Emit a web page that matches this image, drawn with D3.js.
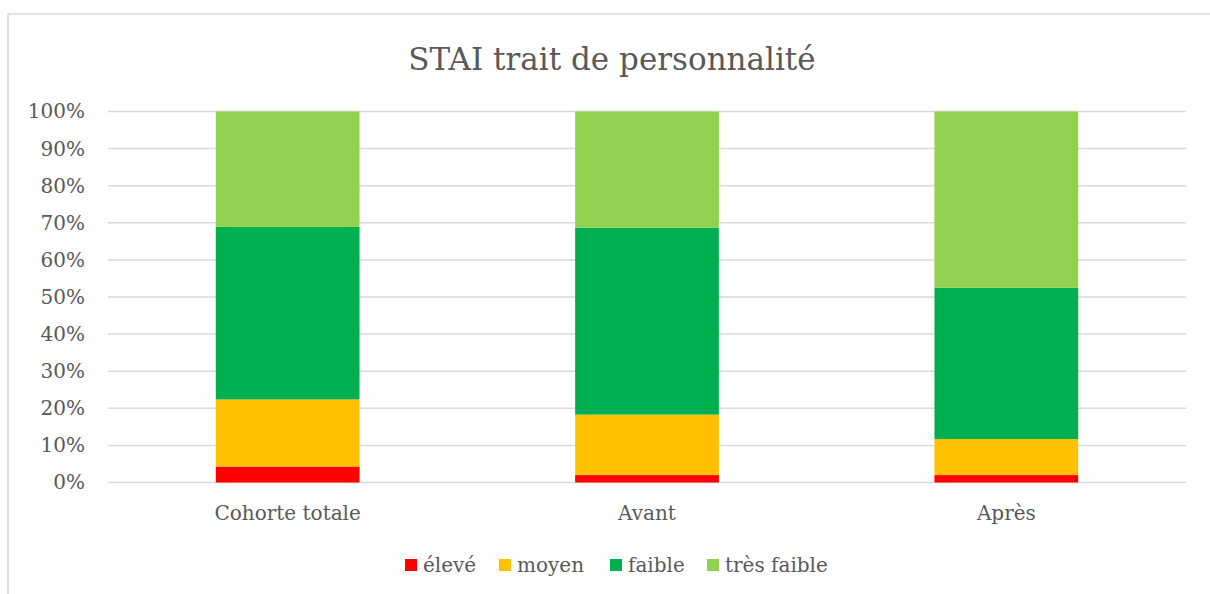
<!DOCTYPE html>
<html>
<head>
<meta charset="utf-8">
<script src="https://cdn.jsdelivr.net/npm/d3@7"></script>
<style>
  html, body { margin: 0; padding: 0; background: #ffffff; }
  svg { display: block; }
  text { font-family: "DejaVu Serif", "Liberation Serif", serif; fill: #595959; }
</style>
</head>
<body>
<svg id="chart" width="1210" height="594"></svg>
<script>
// Categories and stacked series (percent of each group)
const categories = ["Cohorte totale", "Avant", "Après"];
const seriesNames = ["élevé", "moyen", "faible", "très faible"];
const eleve      = [4.3, 2.0, 2.0];
const moyen      = [18.1, 16.3, 9.7];
const faible     = [46.5, 50.4, 40.8];
const tresFaible = [31.1, 31.3, 47.5];
const tickValues = [0, 10, 20, 30, 40, 50, 60, 70, 80, 90, 100];
const colors = ["#FF0000", "#FFC000", "#00B050", "#92D050"];

const rows = categories.map((c, i) => ({
  cat: c,
  "élevé": eleve[i],
  "moyen": moyen[i],
  "faible": faible[i],
  "très faible": tresFaible[i]
}));

const svg = d3.select("#chart");
const W = 1210, H = 594;
const plot = { left: 108, right: 1186, top: 111.5, bottom: 482.5 };

// outer frame
svg.append("rect")
  .attr("x", 8).attr("y", 14)
  .attr("width", W + 10).attr("height", H + 10)
  .attr("fill", "none").attr("stroke", "#d9d9d9").attr("stroke-width", 1.5);

// title
svg.append("text")
  .attr("x", 612).attr("y", 70)
  .attr("text-anchor", "middle")
  .style("font-size", "31px")
  .text("STAI trait de personnalité");

const x = d3.scaleBand()
  .domain(categories)
  .range([plot.left, plot.right])
  .paddingInner(0.6)
  .paddingOuter(0.3);

const y = d3.scaleLinear()
  .domain([0, 100])
  .range([plot.bottom, plot.top]);

// gridlines
svg.append("g")
  .selectAll("line")
  .data(tickValues)
  .join("line")
  .attr("x1", plot.left).attr("x2", plot.right)
  .attr("y1", d => y(d)).attr("y2", d => y(d))
  .attr("stroke", "#d9d9d9").attr("stroke-width", 1.5);

// y axis labels
const yAxis = d3.axisLeft(y)
  .tickValues(tickValues)
  .tickFormat(d => d + "%")
  .tickSize(0)
  .tickPadding(23);
const gy = svg.append("g")
  .attr("transform", `translate(${plot.left},0)`)
  .call(yAxis);
gy.select(".domain").remove();
gy.selectAll("text")
  .style("font-size", "20px")
  .style("font-family", "\"DejaVu Serif\", serif")
  .attr("fill", "#595959");

// stacked bars
const stack = d3.stack().keys(seriesNames);
const layers = stack(rows);
svg.append("g")
  .selectAll("g")
  .data(layers)
  .join("g")
  .attr("fill", (d, i) => colors[i])
  .selectAll("rect")
  .data(d => d)
  .join("rect")
  .attr("x", d => x(d.data.cat))
  .attr("width", x.bandwidth())
  .attr("y", d => y(d[1]))
  .attr("height", d => y(d[0]) - y(d[1]));

// x axis labels
const xAxis = d3.axisBottom(x).tickSize(0).tickPadding(23);
const gx = svg.append("g")
  .attr("transform", `translate(0,${plot.bottom})`)
  .call(xAxis);
gx.select(".domain").remove();
gx.selectAll("text")
  .style("font-size", "20px")
  .style("font-family", "\"DejaVu Serif\", serif")
  .attr("fill", "#595959");

// legend
const legendX = [405, 499, 610, 707];
const legend = svg.append("g");
seriesNames.forEach((name, i) => {
  legend.append("rect")
    .attr("x", legendX[i]).attr("y", 559)
    .attr("width", 12).attr("height", 12)
    .attr("fill", colors[i]);
  legend.append("text")
    .attr("x", legendX[i] + 18).attr("y", 572)
    .style("font-size", "20px")
    .text(name);
});
</script>
</body>
</html>
